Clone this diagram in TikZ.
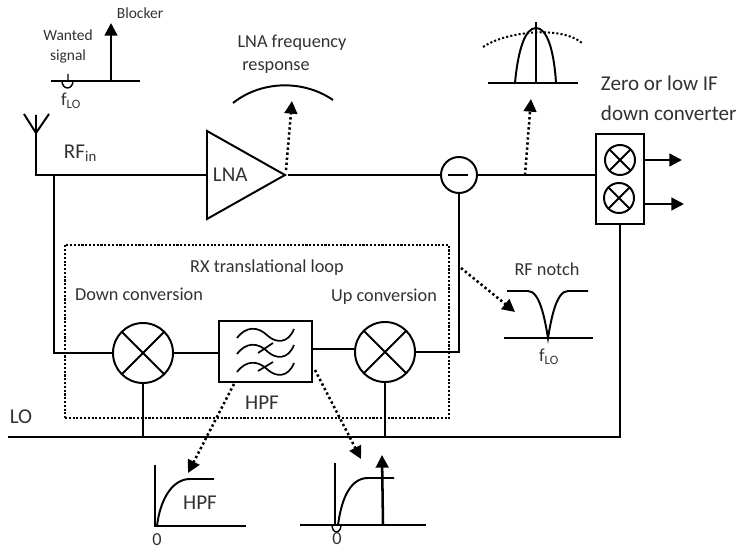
\documentclass[tikz,border=0pt]{standalone}
\usepackage{fontspec}
\setmainfont{Carlito}
\usepackage{xcolor}
\usetikzlibrary{positioning,arrows.meta,shapes.geometric}
\definecolor{txtgrey}{RGB}{50,50,50}

\begin{document}
\begin{tikzpicture}[
  x=0.025cm, y=-0.025cm,
  line width=1.4pt,
  every node/.style={text=txtgrey, line width=1.4pt},
  lbl/.style={font=\fontsize{13}{15}\selectfont, inner sep=0pt},
  biglbl/.style={font=\fontsize{15}{17}\selectfont, inner sep=0pt},
  smalllbl/.style={font=\fontsize{11}{13}\selectfont, inner sep=0pt},
  mixer/.style={draw=black, circle, minimum size=1.5cm, inner sep=0pt,
    path picture={\draw (path picture bounding box.north west) -- (path picture bounding box.south east)
      (path picture bounding box.north east) -- (path picture bounding box.south west);}},
  smallmix/.style={mixer, minimum size=0.75cm},
  dotarrow/.style={dash pattern=on 1.7pt off 1.9pt, line width=1.8pt, -{Triangle[length=9pt,width=9pt]}},
  solidarrow/.style={line width=1.8pt, -{Triangle[length=9pt,width=9pt]}},
  dotbox/.style={draw=black, dash pattern=on 1.5pt off 1.2pt, line width=1.6pt, inner sep=0pt}
]
\useasboundingbox (0,0) rectangle (736,550);

% dotted loop
\node[dotbox, minimum width=9.6cm, minimum height=4.325cm] (loop) at (257,331.5) {};
\node[lbl] (looplbl) at (267,268) {RX translational loop};
\node[lbl] (downlbl) at (139,294) {Down conversion};
\node[lbl] (uplbl) at (384,297) {Up conversion};

% main blocks
\node[draw=black, isosceles triangle, isosceles triangle stretches, fill=white, minimum width=2.2cm, minimum height=1.95cm,
  inner sep=0pt, anchor=lower side] (lna) at (206,175) {};
\node[biglbl, anchor=west] (lnatxt) at (212,175) {LNA};
\node[draw=black, circle, minimum size=0.9cm, inner sep=0pt] (sub) at (459,175) {};
\node[draw=black, minimum width=1.2cm, minimum height=2.25cm] (dwn) at (620,179) {};
\node[smallmix] (mixi) at (620,160) {};
\node[smallmix] (mixq) at (619,198) {};
\node[mixer] (mixd) at (143,353) {};
\node[mixer] (mixu) at (385,352) {};
\node[draw=black, minimum width=2.325cm, minimum height=1.525cm] (hpf) at (265.5,351.5) {};
\node[biglbl] (hpflbl) at (262,403) {HPF};

% filter waves
\foreach \yy in {0,16,34} {
  \draw[line width=1.2pt] (237,338+\yy) .. controls (246,326+\yy) and (258,326+\yy) .. (268,336+\yy)
    .. controls (276,343+\yy) and (288,344+\yy) .. (294,329+\yy);
}
\draw[line width=1.2pt] (258,353) -- (273,343) (258,371) -- (273,362);

% antenna and junctions
\coordinate (ant) at (36,175);
\coordinate (anttop) at (36,133);
\coordinate (split) at (54,175);
\coordinate (lobus) at (8,437);
\coordinate (locor) at (620,437);
\coordinate (outi) at (682,160);
\coordinate (outq) at (684,204);
\draw (24,114) -- (anttop) -- (49,114) (36,115) -- (anttop);
\node[biglbl, anchor=west] (rfin) at (63,153) {RF\textsubscript{in}};
\node[biglbl] (lolbl) at (21,417) {LO};

% wiring
\draw (anttop) -- (ant) -- (lna.lower side);
\draw (lna.apex) -- (sub.west);
\draw (sub.east) -- (dwn.west |- sub.east);
\draw (split) |- (mixd.west);
\draw (mixd.east) -- (mixd.east -| hpf.west);
\draw (hpf.east |- 0,349) -- (mixu.west |- 0,349);
\draw (mixu.east) -| (sub.south);
\draw (lobus) -- (locor) -- (dwn.south -| locor);
\draw (mixd.south) -- (mixd.south |- lobus);
\draw (mixu.south) -- (mixu.south |- lobus);
\draw[solidarrow] (mixi.east -| dwn.east) -- (outi);
\draw[solidarrow] (dwn.east |- outq) -- (outq);
\draw[line width=1.2pt] (448,175) -- (468,175);

% spectrum at input
\draw (51,81) -- (140,81);
\draw[line width=1pt] (62,81) arc[start angle=180, end angle=0, x radius=5.5, y radius=7] (68,74) -- (68,81);
\coordinate (blockbot) at (111,81);
\coordinate (blocktop) at (111,23);
\draw[solidarrow] (blockbot) -- (blocktop);
\node[smalllbl] (blocklbl) at (140,13) {Blocker};
\node[smalllbl] (wantlbl) at (68,35) {Wanted};
\node[smalllbl] (siglbl) at (68,56) {signal};
\node[lbl] (flo) at (71,101) {f\textsubscript{LO}};

% LNA response
\draw (233,103) .. controls (262,80) and (304,80) .. (333,100);
\node[lbl] (lnalbl) at (292,43) {LNA frequency};
\node[lbl] (resplbl) at (276,68) {response};
\coordinate (lnatap) at (286,170);
\coordinate (lnatip) at (292,101);
\draw[dotarrow] (lnatap) -- (lnatip);

% spectrum after notch
\draw (488,83) -- (578,83);
\draw (536,83) -- (536,22);
\draw (515,83) .. controls (518,50) and (525,28) .. (536,28) .. controls (547,28) and (554,50) .. (556,83);
\draw[dash pattern=on 1.5pt off 1.5pt] (483,47) .. controls (505,32) and (560,25) .. (582,43);
\coordinate (subtap) at (525,175);
\coordinate (subtip) at (531,99);
\draw[dotarrow] (subtap) -- (subtip);

\node[biglbl, anchor=west] (zerolbl) at (600,83) {Zero or low IF};
\node[biglbl, anchor=west] (convlbl) at (600,113) {down converter};

% RF notch
\coordinate (notchtap) at (461,268);
\coordinate (notchtip) at (515,312);
\draw[dotarrow] (notchtap) -- (notchtip);
\node[lbl] (notchlbl) at (547,269) {RF notch};
\draw (504,338) -- (593,338);
\draw (507,291) -- (528,291) .. controls (540,291) and (545,320) .. (548,338)
  .. controls (551,320) and (556,291) .. (568,291) -- (588,291);
\node[lbl] (notchflo) at (549,357) {f\textsubscript{LO}};

% HPF response
\coordinate (hpftap) at (234,384);
\coordinate (hpftip) at (188,473);
\draw[dotarrow] (hpftap) -- (hpftip);
\draw (155,465) -- (155,526) -- (246,526);
\draw (157,526) .. controls (160,500) and (172,479) .. (190,479) -- (214,479);
\node[biglbl] (plotlbl) at (200,503) {HPF};
\node[lbl] (zeroa) at (157,540) {0};

% spectrum after HPF
\coordinate (uptap) at (315,370);
\coordinate (uptip) at (361,459);
\draw[dotarrow] (uptap) -- (uptip);
\draw (335,463) -- (335,525);
\draw (300,525) -- (426,525);
\draw (338,525) .. controls (342,495) and (352,478) .. (368,478) -- (394,478);
\draw[line width=1pt] (332,525) arc[start angle=180, end angle=0, x radius=4.5, y radius=7];
\draw[solidarrow] (383,525) -- (382,455);
\node[lbl] (zerob) at (337,539) {0};

\end{tikzpicture}
\end{document}
